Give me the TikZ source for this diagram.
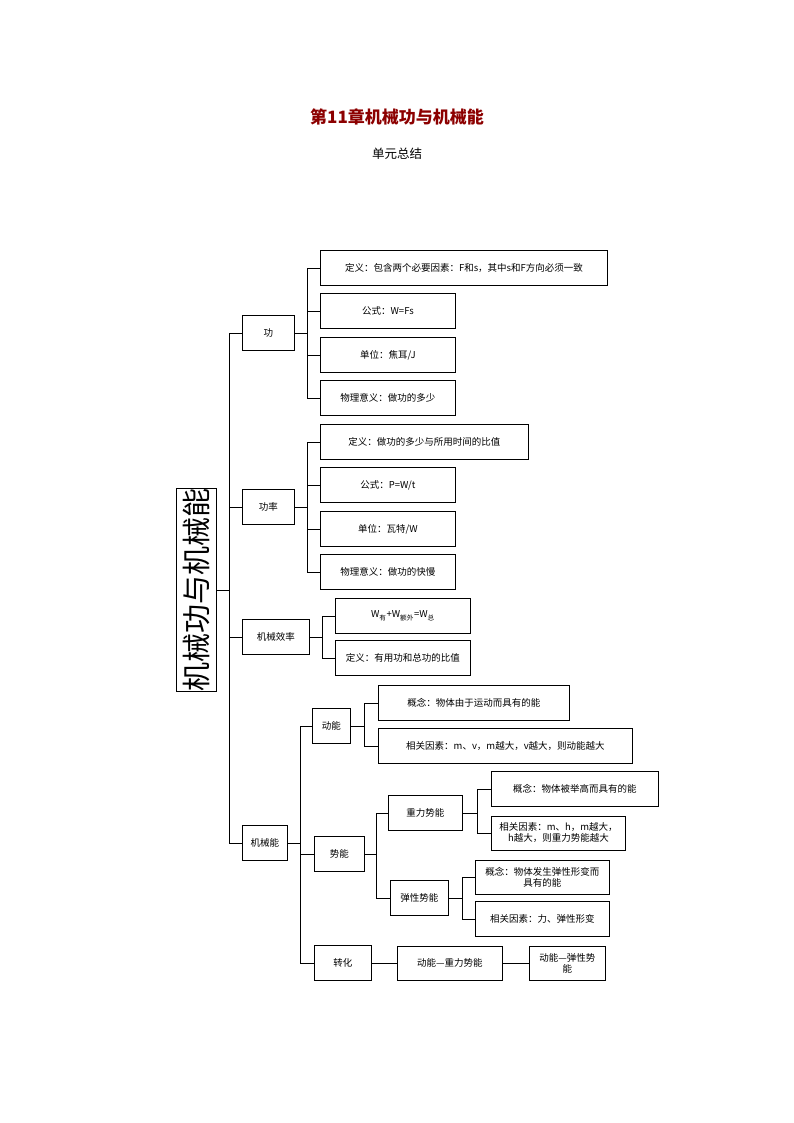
\documentclass[tikz,border=0pt]{standalone}
\usepackage{fontspec}
\setmainfont{Noto Sans CJK SC}
\usetikzlibrary{positioning}
\tikzset{box/.style={draw,line width=0.9pt,anchor=west,minimum height=35pt,align=center,
        inner sep=1pt,font=\fontsize{9.5}{11}\selectfont},
        link/.style={line width=0.9pt}}
\begin{document}
\begin{tikzpicture}[x=1pt,y=-1pt]
\useasboundingbox (0,0) rectangle (794,1123);
\node[font=\bfseries\fontsize{17}{20}\selectfont,text=red!55!black] (title) at (397,117) {第11章机械功与机械能};
\node[font=\fontsize{12.5}{15}\selectfont] (sub) at (397,154) {单元总结};
% root
\node[draw,line width=0.9pt,rotate=90,minimum width=186pt,minimum height=40pt,inner sep=0pt,
      font=\fontsize{29}{32}\selectfont] (root) at (196,590) {机械功与机械能};
\node[box,minimum width=52pt] (gong) at (242,333) {功};
\node[box,minimum width=52pt] (gl) at (242,507) {功率};
\node[box,minimum width=67pt] (xl) at (242,637) {机械效率};
\node[box,minimum width=45pt] (jxn) at (242,843) {机械能};
\draw[link] (root.south) -- (229,590);
\foreach \n in {gong,gl,xl,jxn} \draw[link] (229,590) |- (\n.west);
% gong
\node[box,minimum width=287pt] (g1) at (320,268) {定义：包含两个必要因素：F和s，其中s和F方向必须一致};
\node[box,minimum width=135pt] (g2) at (320,311) {公式：W=Fs};
\node[box,minimum width=135pt] (g3) at (320,355) {单位：焦耳/J};
\node[box,minimum width=135pt] (g4) at (320,398) {物理意义：做功的多少};
\draw[link] (gong.east) -- (307,333);
\foreach \n in {g1,g2,g3,g4} \draw[link] (307,333) |- (\n.west);
% gonglv
\node[box,minimum width=208pt] (p1) at (320,442) {定义：做功的多少与所用时间的比值};
\node[box,minimum width=135pt] (p2) at (320,485) {公式：P=W/t};
\node[box,minimum width=135pt] (p3) at (320,529) {单位：瓦特/W};
\node[box,minimum width=135pt] (p4) at (320,572) {物理意义：做功的快慢};
\draw[link] (gl.east) -- (307,507);
\foreach \n in {p1,p2,p3,p4} \draw[link] (307,507) |- (\n.west);
% xiaolv
\node[box,minimum width=135pt] (x1) at (335,616) {W\textsubscript{有}+W\textsubscript{额外}=W\textsubscript{总}};
\node[box,minimum width=135pt] (x2) at (335,658) {定义：有用功和总功的比值};
\draw[link] (xl.east) -- (322,637);
\foreach \n in {x1,x2} \draw[link] (322,637) |- (\n.west);
% jixieneng
\node[box,minimum width=38pt] (dn) at (312,726) {动能};
\node[box,minimum width=50pt] (sn) at (314,854) {势能};
\node[box,minimum width=57pt] (zh) at (314,963) {转化};
\draw[link] (jxn.east) -- (300,843);
\foreach \n in {dn,sn,zh} \draw[link] (300,843) |- (\n.west);
\node[box,minimum width=191pt] (d1) at (378,703) {概念：物体由于运动而具有的能};
\node[box,minimum width=254pt] (d2) at (378,746) {相关因素：m、v，m越大，v越大，则动能越大};
\draw[link] (dn.east) -- (364,726);
\foreach \n in {d1,d2} \draw[link] (364,726) |- (\n.west);
\node[box,minimum width=74pt] (zl) at (388,813) {重力势能};
\node[box,minimum width=58pt] (tx) at (390,898) {弹性势能};
\draw[link] (sn.east) -- (376,854);
\foreach \n in {zl,tx} \draw[link] (376,854) |- (\n.west);
\node[box,minimum width=167pt] (z1) at (491,789) {概念：物体被举高而具有的能};
\node[box,minimum width=134pt,minimum height=34pt] (z2) at (491,833) {相关因素：m、h，m越大，\\h越大，则重力势能越大};
\draw[link] (zl.east) -- (477,813);
\foreach \n in {z1,z2} \draw[link] (477,813) |- (\n.west);
\node[box,minimum width=134pt,minimum height=34pt] (t1) at (475,877) {概念：物体发生弹性形变而\\具有的能};
\node[box,minimum width=134pt] (t2) at (475,919) {相关因素：力、弹性形变};
\draw[link] (tx.east) -- (462,898);
\foreach \n in {t1,t2} \draw[link] (462,898) |- (\n.west);
\node[box,minimum width=105pt,minimum height=34pt] (zh1) at (397,963) {动能—重力势能};
\node[box,minimum width=76pt,minimum height=34pt] (zh2) at (529,963) {动能—弹性势\\能};
\draw[link] (zh.east) -- (zh1.west);
\draw[link] (zh1.east) -- (zh2.west);
\end{tikzpicture}
\end{document}
